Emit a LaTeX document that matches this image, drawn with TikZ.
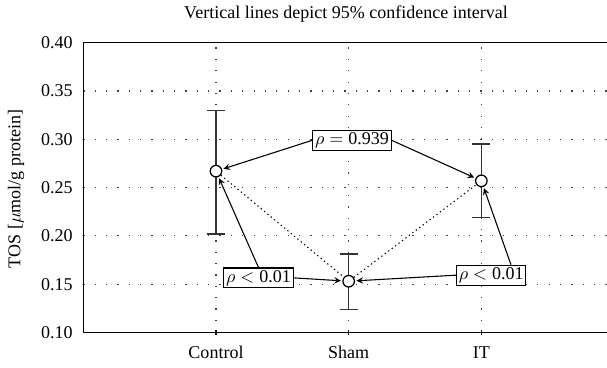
\documentclass[tikz,border=0pt]{standalone}
\usepackage{fontspec}
\setmainfont{Liberation Serif}
\usetikzlibrary{arrows,calc}

\begin{document}
\begin{tikzpicture}[x=2.589cm,y=18.84cm,
    gridline/.style={line width=0.7pt,dash pattern=on 0.7pt off 5.6pt,black!75},
    errbar/.style={line width=0.8pt,black!80},
    datapt/.style={circle,draw,fill=white,line width=0.7pt,minimum size=6.4pt,inner sep=0pt},
    pbox/.style={draw,fill=white,line width=0.6pt,inner sep=1.2pt},
    link/.style={line width=0.6pt,dash pattern=on 0.7pt off 1.7pt},
    arr/.style={->,>=stealth,line width=0.6pt,shorten >=0.8pt}]
    \useasboundingbox (-0.628,0.0634) rectangle (3.947,0.4443);
    % grid
    \draw[gridline] (0,0.35)--(3.947,0.35);
    \draw[gridline] (0,0.30)--(3.947,0.30);
    \draw[gridline] (0,0.25)--(3.947,0.25);
    \draw[gridline] (0,0.20)--(3.947,0.20);
    \draw[gridline] (0,0.15)--(3.947,0.15);
    \draw[gridline] (1,0.10)--(1,0.40);
    \draw[gridline] (2,0.10)--(2,0.40);
    \draw[gridline] (3,0.10)--(3,0.40);
    % axes
    \draw[line width=0.8pt] (0,0.40)--(0,0.10)--(3.947,0.10);
    \draw[line width=0.8pt] (0,0.40)--(3.947,0.40);
    \draw[line width=0.6pt] (1,0.097)--(1,0.103);
    \draw[line width=0.6pt] (2,0.097)--(2,0.103);
    \draw[line width=0.6pt] (3,0.097)--(3,0.103);
    \node[anchor=east] (y40) at (-0.032,0.40){0.40};
    \node[anchor=east] (y35) at (-0.032,0.35){0.35};
    \node[anchor=east] (y30) at (-0.032,0.30){0.30};
    \node[anchor=east] (y25) at (-0.032,0.25){0.25};
    \node[anchor=east] (y20) at (-0.032,0.20){0.20};
    \node[anchor=east] (y15) at (-0.032,0.15){0.15};
    \node[anchor=east] (y10) at (-0.032,0.10){0.10};
    \node (xctl) at (1,0.0789){Control};
    \node (xsham) at (2,0.0789){Sham};
    \node (xit) at (3,0.0789){IT};
    \node[rotate=90] (ylab) at (-0.507,0.2487){TOS [$\mu$mol/g protein]};
    \node (title) at (1.98,0.4298){Vertical lines depict 95\% confidence interval};
    % confidence intervals
    \draw[errbar] (1,0.202)--(1,0.330);
    \draw[errbar] (0.932,0.202)--(1.068,0.202);
    \draw[errbar] (0.932,0.330)--(1.068,0.330);
    \draw[errbar] (2,0.124)--(2,0.181);
    \draw[errbar] (1.932,0.124)--(2.068,0.124);
    \draw[errbar] (1.932,0.181)--(2.068,0.181);
    \draw[errbar] (3,0.219)--(3,0.295);
    \draw[errbar] (2.932,0.219)--(3.068,0.219);
    \draw[errbar] (2.932,0.295)--(3.068,0.295);
    % means
    \node[datapt] (ctl) at (1,0.267){};
    \node[datapt] (sham) at (2,0.153){};
    \node[datapt] (it) at (3,0.257){};
    \draw[link] (ctl)--(sham);
    \draw[link] (sham)--(it);
    % p-values
    \node[pbox] (rho) at (2.025,0.299){$\rho = \mbox{0.939}$};
    \node[pbox] (pleft) at (1.32,0.1565){$\rho < \mbox{0.01}$};
    \node[pbox] (pright) at (3.075,0.1593){$\rho < \mbox{0.01}$};
    \draw[arr] (rho.west)--(ctl);
    \draw[arr] (rho.east)--(it);
    \draw[arr] (pleft.north)--(ctl);
    \draw[arr] (pleft.east)--(sham);
    \draw[arr] ($(pright.north west)!0.78!(pright.north east)$)--(it);
    \draw[arr] (pright.west)--(sham);
\end{tikzpicture}
\end{document}
